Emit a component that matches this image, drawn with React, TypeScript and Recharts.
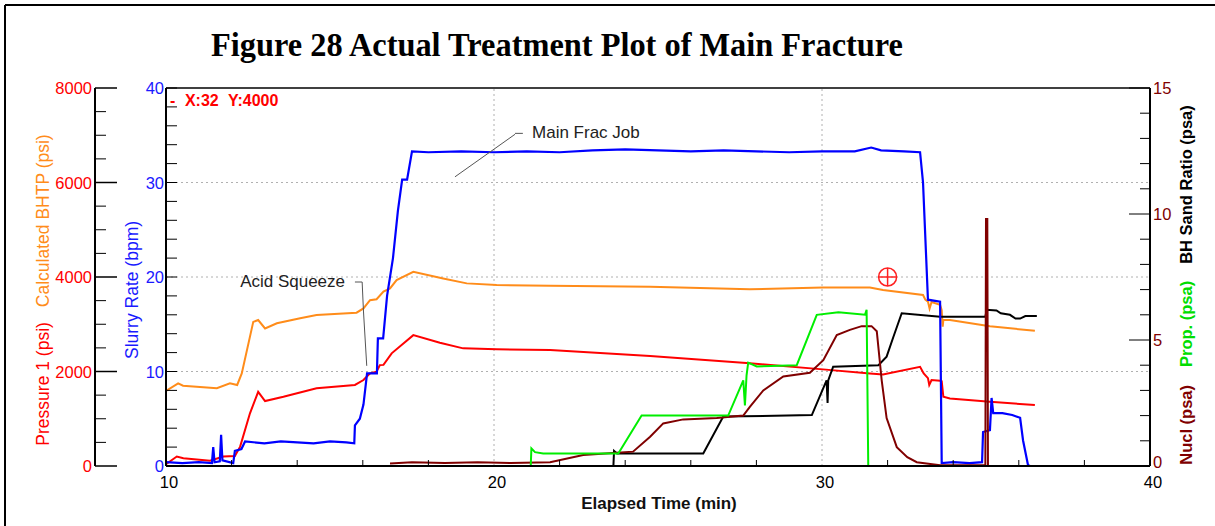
import { LineChart, Line, XAxis, YAxis, ReferenceLine, ReferenceDot } from 'recharts';

// Slurry Rate (bpm)
const rateTime = [10.0, 10.5, 11.0, 11.4, 11.44, 11.48, 11.64, 11.68, 11.72, 12.05, 12.1, 12.3, 12.41, 13.0, 13.5, 14.0, 14.5, 15.0, 15.5, 15.74, 15.76, 15.91, 16.02, 16.13, 16.43, 16.46, 16.62, 16.74, 16.92, 17.07, 17.2, 17.35, 17.5, 18, 19, 20, 21, 22, 23, 24, 25, 26, 27, 28, 29, 30, 31, 31.5, 31.8, 32.5, 32.99, 33.08, 33.23, 33.6, 33.65, 34.0, 34.5, 34.88, 34.91, 35.12, 35.17, 35.22, 35.5, 35.8, 36.04, 36.13, 36.28, 36.34];
const rateValue = [0.4, 0.3, 0.4, 0.3, 2.0, 0.4, 0.5, 3.3, 0.6, 0.3, 1.6, 1.8, 2.6, 2.4, 2.6, 2.5, 2.4, 2.6, 2.5, 2.4, 4.3, 5.0, 6.5, 9.8, 9.8, 13.5, 13.5, 18, 22, 27, 30.3, 30.3, 33.3, 33.2, 33.3, 33.2, 33.3, 33.2, 33.4, 33.5, 33.4, 33.3, 33.4, 33.3, 33.2, 33.3, 33.3, 33.7, 33.4, 33.3, 33.2, 30, 17.6, 17.4, 0.3, 0.4, 0.3, 0.4, 3.6, 3.8, 7.2, 5.6, 5.6, 5.4, 5.1, 2.7, 0.1, 0];

// Calculated BHTP (psi)
const bhtpTime = [10.0, 10.37, 10.52, 11.55, 11.95, 12.17, 12.31, 12.66, 12.81, 13.02, 13.38, 14.09, 14.59, 15.81, 16.02, 16.22, 16.42, 16.63, 16.83, 17.03, 17.54, 18.45, 19.17, 20.08, 21.71, 24.76, 27.8, 30.03, 31.46, 31.86, 33.08, 33.15, 33.23, 33.28, 33.34, 33.6, 33.65, 33.68, 33.7, 33.9, 35.12, 36.49];
const bhtpValue = [1590, 1750, 1700, 1645, 1750, 1715, 1960, 3050, 3090, 2910, 3020, 3125, 3195, 3245, 3335, 3510, 3530, 3690, 3760, 3935, 4110, 3970, 3865, 3830, 3815, 3795, 3740, 3780, 3780, 3725, 3620, 3520, 3480, 3330, 3470, 3410, 3300, 2950, 3090, 3090, 2960, 2860];

// Pressure 1 (psi)
const pressTime = [10.0, 10.33, 10.53, 11.34, 11.75, 12.1, 12.26, 12.56, 12.81, 13.02, 13.58, 14.59, 15.76, 16.02, 16.22, 16.42, 16.52, 16.63, 16.88, 17.54, 18.35, 19.06, 20.08, 21.71, 24.76, 27.8, 30.03, 31.46, 31.86, 32.99, 33.1, 33.23, 33.27, 33.34, 33.6, 33.65, 33.7, 33.9, 35.12, 36.49];
const pressValue = [40, 200, 165, 110, 200, 210, 410, 1115, 1570, 1375, 1465, 1645, 1715, 1820, 1960, 1995, 2135, 2140, 2385, 2770, 2610, 2490, 2470, 2455, 2330, 2175, 2045, 1960, 1935, 2100, 1960, 1860, 1715, 1820, 1805, 1795, 1465, 1430, 1360, 1290];

// Prop. (psa)
const propTime = [21.12, 21.14, 21.25, 21.5, 23.79, 24.5, 27.14, 27.6, 27.65, 27.7, 27.75, 28.01, 29.23, 29.84, 30.5, 31.31, 31.36, 31.41, 36.49];
const propValue = [0, 0.7, 0.55, 0.5, 0.5, 2.0, 2.0, 3.4, 2.4, 3.6, 4.1, 3.95, 4.0, 6.0, 6.1, 6.0, 6.2, 0, 0];

// Nucl (psa)
const nuclTime = [16.83, 17.5, 18.5, 19.5, 20.5, 21.71, 22.72, 23.74, 24.24, 24.76, 25.16, 25.77, 26.79, 27.6, 27.8, 28.21, 28.82, 29.63, 30.04, 30.45, 30.85, 31.21, 31.51, 31.67, 31.82, 31.97, 32.28, 32.6, 32.89, 33.6, 34.98, 35.0, 35.04, 35.06, 36.3];
const nuclValue = [0.1, 0.15, 0.12, 0.15, 0.12, 0.15, 0.44, 0.53, 0.57, 1.16, 1.69, 1.85, 1.9, 2.0, 2.35, 3.0, 3.55, 3.7, 4.2, 5.2, 5.4, 5.55, 5.55, 5.35, 3.4, 1.9, 0.75, 0.35, 0.15, 0.03, 0.03, 9.8, 9.8, 0, 0];

// BH Sand Ratio (psa)
const sandTime = [23.64, 23.66, 23.75, 26.38, 26.99, 29.69, 30.14, 30.17, 30.19, 30.34, 31.72, 31.97, 32.17, 32.43, 33.6, 34.98, 35.02, 35.32, 35.45, 35.73, 35.9, 36.04, 36.2, 36.55];
const sandValue = [0, 0.6, 0.5, 0.5, 1.96, 2.02, 3.4, 2.5, 3.4, 3.94, 4.0, 4.34, 5.1, 6.06, 5.92, 5.92, 6.2, 6.17, 6.06, 6.0, 5.85, 5.85, 5.95, 5.95];

const timeTicks = [10, 12, 14, 16, 18, 20, 22, 24, 26, 28, 30, 32, 34, 36, 38, 40];
const pressureTicks = [0, 500, 1000, 1500, 2000, 2500, 3000, 3500, 4000, 4500, 5000, 5500, 6000, 6500, 7000, 7500, 8000];
const rateTicks = [0, 2, 4, 6, 8, 10, 12, 14, 16, 18, 20, 22, 24, 26, 28, 30, 32, 34, 36, 38, 40];
const ratioTicks = [0, 1, 2, 3, 4, 5, 6, 7, 8, 9, 10, 11, 12, 13, 14, 15];

const pair = (ts: number[], vs: number[]) => ts.map((t, i) => ({ t, v: vs[i] }));

const SANS = '"Liberation Sans", Arial, sans-serif';
const NUCL = '#800000';
// axis ids: the inner left axis must sort first
const RATE = 'axisA_rate';
const PRESS = 'axisB_pressure';
const RATIO = 'axisC_ratio';

function TimeTick({ x, y, payload }: any) {
  const v = payload.value;
  if (v % 10 === 0) {
    return (
      <text x={x + 3} y={y + 16} textAnchor="middle" dominantBaseline="central" fontSize={16.5} fontFamily={SANS} fill="#000">
        {v}
      </text>
    );
  }
  return <line x1={x} x2={x} y1={y} y2={y - 6} stroke="#000" strokeWidth={1} />;
}

function PressureTick({ x, y, payload }: any) {
  const major = payload.value % 2000 === 0;
  return (
    <g>
      <line x1={x} x2={x + (major ? 22 : 11)} y1={y} y2={y} stroke="#000" strokeWidth={major ? 1.5 : 1} />
      {major && (
        <text x={x - 3} y={y} textAnchor="end" dominantBaseline="central" fontSize={16.5} fontFamily={SANS} fill="#ff0000">
          {payload.value}
        </text>
      )}
    </g>
  );
}

function RateTick({ x, y, payload }: any) {
  const major = payload.value % 10 === 0;
  return (
    <g>
      <line x1={x} x2={x + 11} y1={y} y2={y} stroke="#000" strokeWidth={1} />
      {major && (
        <text x={x - 2} y={y} textAnchor="end" dominantBaseline="central" fontSize={16.5} fontFamily={SANS} fill="#1a1aff">
          {payload.value}
        </text>
      )}
    </g>
  );
}

function RatioTick({ x, y, payload }: any) {
  const v = payload.value;
  const major = v % 5 === 0;
  return (
    <g>
      <line x1={x} x2={x - (major ? 21 : 10)} y1={y} y2={y} stroke="#000" strokeWidth={1} />
      {major && (
        <text x={x + 3} y={v === 0 ? y - 4 : y} textAnchor="start" dominantBaseline="central" fontSize={16.5} fontFamily={SANS} fill={NUCL}>
          {v}
        </text>
      )}
    </g>
  );
}

const textDot = (label: string, size: number, color: string, weight = 'normal') => (p: any) => (
  <text x={p.cx} y={p.cy} dominantBaseline="central" fontSize={size} fontFamily={SANS} fontWeight={weight} fill={color}>
    {label}
  </text>
);

const cursorDot = (p: any) => (
  <text x={p.cx} y={p.cy} dominantBaseline="central" fontSize={16} fontFamily={SANS} fontWeight="bold" fill="#ff0000">
    <tspan>-</tspan>
    <tspan x={p.cx + 15}>X:32</tspan>
    <tspan x={p.cx + 58}>Y:4000</tspan>
  </text>
);

const crossDot = (p: any) => (
  <g stroke="#ff2020" strokeWidth={1.5} fill="none">
    <circle cx={p.cx} cy={p.cy} r={9} />
    <line x1={p.cx - 9} x2={p.cx + 9} y1={p.cy} y2={p.cy} />
    <line x1={p.cx} x2={p.cx} y1={p.cy - 9} y2={p.cy + 9} />
  </g>
);

export default function App() {
  const grid = { stroke: '#b0b0b0', strokeDasharray: '2 3', strokeWidth: 1 };
  const leader = { stroke: '#555', strokeWidth: 1 };
  return (
    <div style={{ position: 'absolute', left: 0, top: 0, width: 1215, height: 526, background: '#fff' }}>
      <LineChart width={1215} height={526} margin={{ top: 88, right: 0, bottom: 0, left: 0 }}>
        <XAxis
          dataKey="t"
          type="number"
          domain={[10, 40]}
          ticks={timeTicks}
          interval={0}
          allowDataOverflow
          height={60}
          tickSize={0}
          tickMargin={0}
          tickLine={false}
          axisLine={{ stroke: '#000', strokeWidth: 2 }}
          tick={<TimeTick />}
        />
        <YAxis
          yAxisId={RATE}
          orientation="left"
          width={71}
          domain={[0, 40]}
          ticks={rateTicks}
          interval={0}
          allowDataOverflow
          tickSize={0}
          tickMargin={0}
          tickLine={false}
          axisLine={{ stroke: '#000', strokeWidth: 2 }}
          tick={<RateTick />}
        />
        <YAxis
          yAxisId={PRESS}
          orientation="left"
          width={95}
          domain={[0, 8000]}
          ticks={pressureTicks}
          interval={0}
          allowDataOverflow
          tickSize={0}
          tickMargin={0}
          tickLine={false}
          axisLine={{ stroke: '#000', strokeWidth: 2 }}
          tick={<PressureTick />}
        />
        <YAxis
          yAxisId={RATIO}
          orientation="right"
          width={65}
          domain={[0, 15]}
          ticks={ratioTicks}
          interval={0}
          allowDataOverflow
          tickSize={0}
          tickMargin={0}
          tickLine={false}
          axisLine={{ stroke: '#000', strokeWidth: 2 }}
          tick={<RatioTick />}
        />

        <ReferenceLine yAxisId={RATE} y={10} {...grid} />
        <ReferenceLine yAxisId={RATE} y={20} {...grid} />
        <ReferenceLine yAxisId={RATE} y={30} {...grid} />
        <ReferenceLine yAxisId={RATE} x={20} {...grid} />
        <ReferenceLine yAxisId={RATE} x={30} {...grid} />
        <ReferenceLine yAxisId={RATE} y={40} stroke="#000" strokeWidth={1.5} />

        <Line data={pair(bhtpTime, bhtpValue)} dataKey="v" yAxisId={PRESS} type="linear" stroke="#ff8c1a" strokeWidth={2} dot={false} isAnimationActive={false} />
        <Line data={pair(pressTime, pressValue)} dataKey="v" yAxisId={PRESS} type="linear" stroke="#ff0000" strokeWidth={2} dot={false} isAnimationActive={false} />
        <Line data={pair(sandTime, sandValue)} dataKey="v" yAxisId={RATIO} type="linear" stroke="#000000" strokeWidth={2} dot={false} isAnimationActive={false} />
        <Line data={pair(rateTime, rateValue)} dataKey="v" yAxisId={RATE} type="linear" stroke="#0000ff" strokeWidth={2.2} dot={false} isAnimationActive={false} />
        <Line data={pair(nuclTime, nuclValue)} dataKey="v" yAxisId={RATIO} type="linear" stroke={NUCL} strokeWidth={2} dot={false} isAnimationActive={false} />
        <Line data={pair(propTime, propValue)} dataKey="v" yAxisId={RATIO} type="linear" stroke="#00ee00" strokeWidth={2} dot={false} isAnimationActive={false} />

        <ReferenceLine yAxisId={RATE} segment={[{ x: 20.64, y: 35.2 }, { x: 20.88, y: 35.2 }]} {...leader} />
        <ReferenceLine yAxisId={RATE} segment={[{ x: 20.64, y: 35.1 }, { x: 18.81, y: 30.6 }]} {...leader} />
        <ReferenceLine yAxisId={RATE} segment={[{ x: 15.76, y: 19.47 }, { x: 15.98, y: 19.47 }]} {...leader} />
        <ReferenceLine yAxisId={RATE} segment={[{ x: 15.98, y: 19.47 }, { x: 16.02, y: 16.4 }]} {...leader} />
        <ReferenceLine yAxisId={RATE} segment={[{ x: 16.02, y: 16.4 }, { x: 16.12, y: 10.6 }]} {...leader} />
        <ReferenceDot yAxisId={RATE} x={21.16} y={35.34} r={0} shape={textDot('Main Frac Job', 17, '#222')} />
        <ReferenceDot yAxisId={RATE} x={12.26} y={19.5} r={0} shape={textDot('Acid Squeeze', 17, '#222')} />
        <ReferenceDot yAxisId={RATE} x={10.12} y={38.7} r={0} shape={cursorDot} />
        <ReferenceDot yAxisId={PRESS} x={32} y={4000} r={9} shape={crossDot} />
      </LineChart>

      <svg width={1215} height={526} style={{ position: 'absolute', left: 0, top: 0, pointerEvents: 'none' }}>
        <line x1={5} x2={1215} y1={5} y2={5} stroke="#000" strokeWidth={2} />
        <line x1={5} x2={5} y1={5} y2={526} stroke="#000" strokeWidth={2} />
        <text x={557} y={56} textAnchor="middle" fontSize={33} fontWeight="bold" fontFamily='"Liberation Serif", "Times New Roman", serif' textLength={692} lengthAdjust="spacingAndGlyphs">
          Figure 28 Actual Treatment Plot of Main Fracture
        </text>
        <text transform="translate(43,290) rotate(-90)" textAnchor="middle" dominantBaseline="central" fontSize={17.5} fontFamily={SANS}>
          <tspan fill="#ff0000">Pressure 1 (psi)</tspan>
          <tspan fill="#ff8c1a" dx={15}>Calculated BHTP (psi)</tspan>
        </text>
        <text transform="translate(132,290) rotate(-90)" textAnchor="middle" dominantBaseline="central" fontSize={17.5} fontFamily={SANS} fill="#1a1aff">
          Slurry Rate (bpm)
        </text>
        <text transform="translate(1186,285) rotate(-90)" textAnchor="middle" dominantBaseline="central" fontSize={16.5} fontWeight="bold" fontFamily={SANS}>
          <tspan fill={NUCL}>Nucl (psa)</tspan>
          <tspan fill="#00dd00" dx={18}>Prop. (psa)</tspan>
          <tspan fill="#000" dx={17}>BH Sand Ratio (psa)</tspan>
        </text>
        <text x={659} y={503} textAnchor="middle" dominantBaseline="central" fontSize={17} fontWeight="bold" fontFamily={SANS} fill="#111">
          Elapsed Time (min)
        </text>
      </svg>
    </div>
  );
}
